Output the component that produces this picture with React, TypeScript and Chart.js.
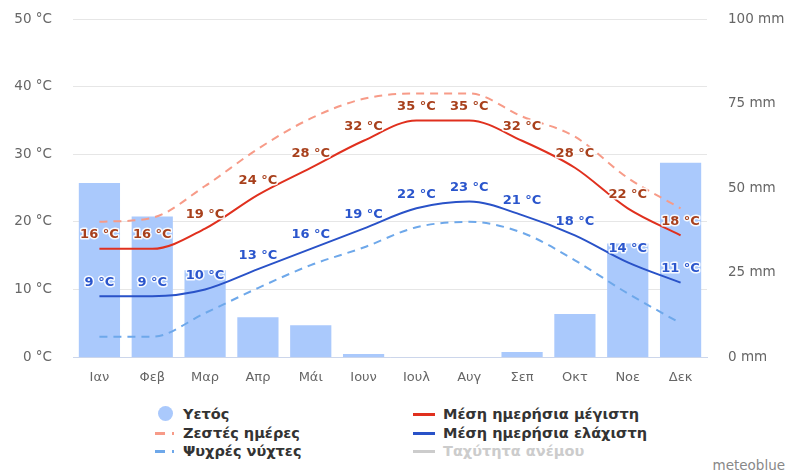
import React, { useEffect, useRef } from "react";
import { Chart, registerables } from "chart.js";

Chart.register(...registerables);

const months = ["Ιαν", "Φεβ", "Μαρ", "Απρ", "Μάι", "Ιουν", "Ιουλ", "Αυγ", "Σεπ", "Οκτ", "Νοε", "Δεκ"];
const precipitation = [51.5, 41.6, 25.7, 11.8, 9.4, 0.9, 0, 0, 1.5, 12.7, 33.6, 57.5];
const meanMax = [16, 16, 19, 24, 28, 32, 35, 35, 32, 28, 22, 18];
const meanMin = [9, 9, 10, 13, 16, 19, 22, 23, 21, 18, 14, 11];
const hotDays = [20, 20.6, 25.3, 30.8, 35.3, 38.2, 39, 39, 35.6, 32.6, 26.5, 22];
const coldNights = [3, 3, 6.5, 10.2, 13.6, 16.2, 19.2, 20, 18.4, 14.3, 9.4, 5];
const tempTicks = [0, 10, 20, 30, 40, 50];
const rainTicks = [0, 25, 50, 75, 100];

const FONT = "'DejaVu Sans', sans-serif";

const labelPlugin = {
  id: "pointLabels",
  afterDatasetsDraw(chart: any) {
    const ctx = chart.ctx;
    chart.data.datasets.forEach((ds: any, i: number) => {
      if (!ds.labelColor) return;
      const meta = chart.getDatasetMeta(i);
      ctx.save();
      ctx.font = `bold 13px ${FONT}`;
      ctx.textAlign = "center";
      ctx.textBaseline = "middle";
      ctx.lineJoin = "round";
      meta.data.forEach((pt: any, j: number) => {
        const txt = `${ds.data[j]} °C`;
        const x = pt.x;
        const y = pt.y - 14;
        ctx.strokeStyle = "rgba(255,255,255,0.9)";
        ctx.lineWidth = 3;
        ctx.strokeText(txt, x, y);
        ctx.fillStyle = ds.labelColor;
        ctx.fillText(txt, x, y);
      });
      ctx.restore();
    });
  },
};

export default function App() {
  const ref = useRef<HTMLCanvasElement>(null);
  useEffect(() => {
    if (!ref.current) return;
    const chart = new Chart(ref.current, {
      type: "bar",
      data: {
        labels: months,
        datasets: [
          {
            type: "line",
            label: "Μέση ημερήσια μέγιστη",
            data: meanMax,
            borderColor: "#e0301e",
            borderWidth: 2,
            pointRadius: 0,
            cubicInterpolationMode: "monotone",
            yAxisID: "y",
            order: 1,
            labelColor: "#a8401c",
          } as any,
          {
            type: "line",
            label: "Μέση ημερήσια ελάχιστη",
            data: meanMin,
            borderColor: "#2952c8",
            borderWidth: 2,
            pointRadius: 0,
            cubicInterpolationMode: "monotone",
            yAxisID: "y",
            order: 2,
            labelColor: "#2a55cc",
          } as any,
          {
            type: "line",
            label: "Ζεστές ημέρες",
            data: hotDays,
            borderColor: "#f79b88",
            borderWidth: 2,
            borderDash: [8, 6],
            pointRadius: 0,
            cubicInterpolationMode: "monotone",
            yAxisID: "y",
            order: 3,
          } as any,
          {
            type: "line",
            label: "Ψυχρές νύχτες",
            data: coldNights,
            borderColor: "#6ea8ea",
            borderWidth: 2,
            borderDash: [8, 6],
            pointRadius: 0,
            cubicInterpolationMode: "monotone",
            yAxisID: "y",
            order: 4,
          } as any,
          {
            type: "bar",
            label: "Υετός",
            data: precipitation,
            backgroundColor: "#aac9fc",
            barPercentage: 0.78,
            categoryPercentage: 1,
            yAxisID: "y2",
            order: 10,
          } as any,
        ],
      },
      options: {
        animation: false,
        responsive: false,
        maintainAspectRatio: false,
        layout: { padding: { top: 8, bottom: 0, left: 0, right: 0 } },
        plugins: { legend: { display: false }, tooltip: { enabled: false } },
        scales: {
          x: {
            grid: { display: false, drawTicks: false },
            border: { color: "#ccd6eb" },
            ticks: { color: "#666", font: { family: FONT, size: 13 }, padding: 13 },
            afterFit: (s: any) => { s.height = 38; },
          },
          y: {
            position: "left",
            min: 0,
            max: 50,
            afterBuildTicks: (s: any) => { s.ticks = tempTicks.map((v) => ({ value: v })); },
            grid: { color: "#e6e6e6", drawTicks: false },
            border: { display: false },
            ticks: {
              color: "#666",
              font: { family: FONT, size: 13.5 },
              padding: 21,
              callback: (v: any) => `${v} °C`,
            },
            afterFit: (s: any) => { s.width = 73; },
          },
          y2: {
            position: "right",
            min: 0,
            max: 100,
            afterBuildTicks: (s: any) => { s.ticks = rainTicks.map((v) => ({ value: v })); },
            grid: { display: false, drawTicks: false },
            border: { display: false },
            ticks: {
              color: "#666",
              font: { family: FONT, size: 13.5 },
              padding: 21,
              callback: (v: any) => `${v} mm`,
            },
            afterFit: (s: any) => { s.width = 80; },
          },
        },
      } as any,
      plugins: [labelPlugin],
    });
    return () => chart.destroy();
  }, []);

  const text: React.CSSProperties = {
    position: "absolute",
    fontFamily: FONT,
    fontWeight: "bold",
    fontSize: 14.5,
    color: "#333",
    lineHeight: "18px",
    whiteSpace: "nowrap",
  };
  const row = (y: number) => y - 9;
  const lineIcon = (x: number, y: number, color: string, dashed: boolean) =>
    dashed ? (
      <>
        <div style={{ position: "absolute", left: x, top: y - 1, width: 10, height: 2.5, background: color }} />
        <div style={{ position: "absolute", left: x + 17, top: y - 1, width: 2, height: 2.5, background: color }} />
      </>
    ) : (
      <div style={{ position: "absolute", left: x, top: y - 1.5, width: 22, height: 3, background: color }} />
    );

  return (
    <div style={{ position: "fixed", left: 0, top: 0, width: 787, height: 475, background: "#fff", overflow: "hidden" }}>
      <canvas ref={ref} width={787} height={405} style={{ position: "absolute", left: 0, top: -10 }} />
      <div style={{ position: "absolute", left: 158, top: 406, width: 15, height: 15, borderRadius: 7.5, background: "#aac9fc" }} />
      <div style={{ ...text, left: 183, top: row(414) }}>Υετός</div>
      {lineIcon(155, 433, "#f79b88", true)}
      <div style={{ ...text, left: 183, top: row(433) }}>Ζεστές ημέρες</div>
      {lineIcon(155, 451, "#6ea8ea", true)}
      <div style={{ ...text, left: 183, top: row(451) }}>Ψυχρές νύχτες</div>
      {lineIcon(413, 414, "#e0301e", false)}
      <div style={{ ...text, left: 443, top: row(414) }}>Μέση ημερήσια μέγιστη</div>
      {lineIcon(413, 433, "#2952c8", false)}
      <div style={{ ...text, left: 443, top: row(433) }}>Μέση ημερήσια ελάχιστη</div>
      {lineIcon(413, 451, "#cccccc", false)}
      <div style={{ ...text, left: 443, top: row(451), color: "#cccccc" }}>Ταχύτητα ανέμου</div>
      <div style={{ ...text, fontWeight: "normal", color: "#888", right: 2, top: row(465), fontSize: 13.5 }}>meteoblue</div>
    </div>
  );
}
